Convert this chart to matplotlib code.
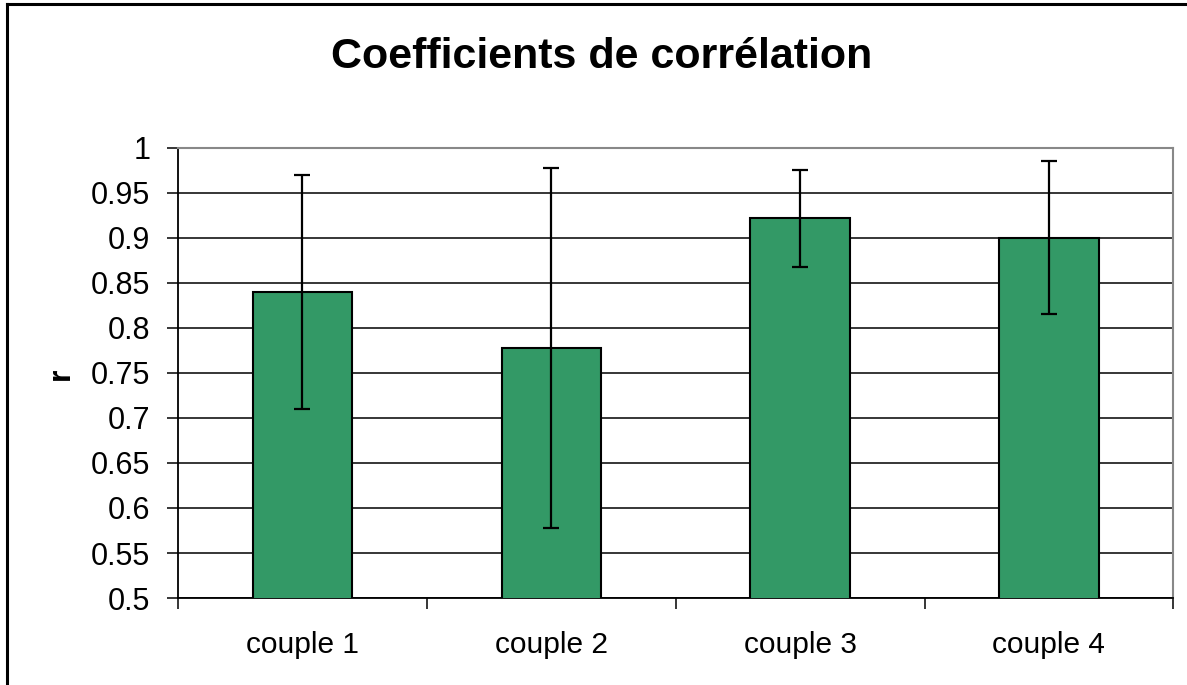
import numpy as np
import matplotlib.pyplot as plt
from matplotlib.lines import Line2D

categories = ["couple 1", "couple 2", "couple 3", "couple 4"]
r_values = [0.84, 0.778, 0.922, 0.90]
r_errors = [0.13, 0.20, 0.054, 0.085]
y_ticks = [0.5, 0.55, 0.6, 0.65, 0.7, 0.75, 0.8, 0.85, 0.9, 0.95, 1.0]
y_ticklabels = ["0.5", "0.55", "0.6", "0.65", "0.7", "0.75", "0.8", "0.85", "0.9", "0.95", "1"]

plt.rcParams["font.family"] = ["Liberation Sans", "DejaVu Sans"]

fig = plt.figure(figsize=(11.87, 6.85), dpi=100)
ax = fig.add_axes([0.15, 0.127, 0.8385, 0.657])

x = np.arange(len(categories))
ax.bar(x, r_values, width=0.4, color="#339966", edgecolor="black", lw=1.5, zorder=3)
ax.errorbar(x, r_values, yerr=r_errors, fmt="none", ecolor="black",
            elinewidth=1.6, capsize=5.5, capthick=1.6, zorder=4)

ax.set_ylim(0.5, 1.0)
ax.set_xlim(-0.5, len(categories) - 0.5)
ax.set_yticks(y_ticks)
ax.set_yticklabels(y_ticklabels, fontsize=22)
ax.yaxis.grid(True, color="black", lw=1.1, zorder=0)
ax.set_axisbelow(True)

# category labels centered, tick marks at category boundaries
ax.set_xticks(x)
ax.set_xticklabels(categories, fontsize=21.5)
ax.tick_params(axis="x", which="major", length=0, pad=24)
ax.set_xticks(np.arange(-0.5, len(categories)), minor=True)
ax.tick_params(axis="x", which="minor", length=8, width=1.1, direction="out")
ax.tick_params(axis="y", length=8, width=1.1, pad=12)

for s in ["top", "right"]:
    ax.spines[s].set_color("#888888")
    ax.spines[s].set_linewidth(1.5)
for s in ["left", "bottom"]:
    ax.spines[s].set_color("black")
    ax.spines[s].set_linewidth(1.3)

fig.text(0.507, 0.917, "Coefficients de corrélation", ha="center", va="center",
         fontsize=31, fontweight="bold")
fig.text(0.051, 0.455, "r", rotation=90, ha="center", va="center",
         fontsize=23, fontweight="bold")

# outer chart border (left and top visible)
fig.add_artist(Line2D([0.006, 0.006], [0.0, 0.994], transform=fig.transFigure,
                      color="black", lw=2.2))
fig.add_artist(Line2D([0.006, 1.0], [0.994, 0.994], transform=fig.transFigure,
                      color="black", lw=2.2))

fig.savefig("out.png", dpi=100)
